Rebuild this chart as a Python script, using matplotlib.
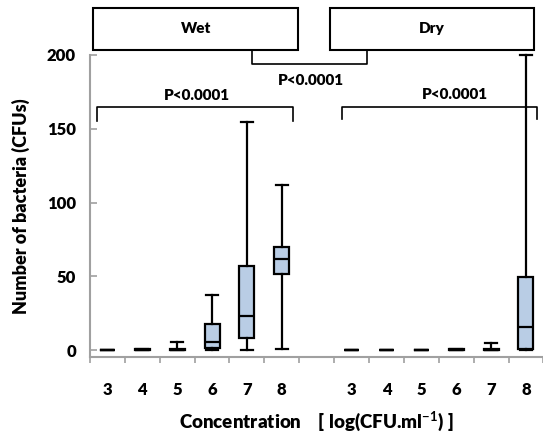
import matplotlib
matplotlib.use("Agg")
import matplotlib.pyplot as plt
from matplotlib.patches import Rectangle

plt.rcParams['font.family'] = ['Lato', 'DejaVu Sans']
plt.rcParams['font.weight'] = 'bold'
plt.rcParams['mathtext.fontset'] = 'custom'
plt.rcParams['mathtext.rm'] = 'Lato:bold'
plt.rcParams['mathtext.bf'] = 'Lato:bold'

# Data, wet group then dry group
concentrations = ['3', '4', '5', '6', '7', '8']
wet_whislo = [0, 0, 0, 0, 0, 0.7]
wet_q1 = [0, 0, 0, 1.8, 8.1, 51.8]
wet_med = [0, 0.5, 0.5, 5.8, 23.2, 61.8]
wet_q3 = [0, 1, 1, 17.8, 57.2, 70]
wet_whishi = [0, 1, 5.4, 37.4, 154.7, 112]

dry_whislo = [0, 0, 0, 0, 0, 0]
dry_q1 = [0, 0, 0, 0, 0, 0.9]
dry_med = [0, 0, 0, 0.5, 0.3, 16]
dry_q3 = [0, 0, 0, 1, 0.6, 49.8]
dry_whishi = [0, 0, 0, 1, 5.2, 200]

wet_pos = [1, 2, 3, 4, 5, 6]
dry_pos = [8, 9, 10, 11, 12, 13]

box_fill = '#b9cde5'
axis_grey = '#a0a0a0'


def make_stats(lo, q1, med, q3, hi):
    stats = []
    for i in range(len(med)):
        stats.append(dict(whislo=lo[i], q1=q1[i], med=med[i], q3=q3[i], whishi=hi[i], fliers=[]))
    return stats


fig = plt.figure(figsize=(5.43, 4.36), dpi=100)
ax = fig.add_axes([0.1657, 0.1819, 0.835, 0.6926])

stats = make_stats(wet_whislo, wet_q1, wet_med, wet_q3, wet_whishi) + \
    make_stats(dry_whislo, dry_q1, dry_med, dry_q3, dry_whishi)
ax.bxp(stats, positions=wet_pos + dry_pos, widths=0.43, capwidths=0.34,
       patch_artist=True, showfliers=False,
       boxprops=dict(facecolor=box_fill, edgecolor='black', linewidth=1.6),
       medianprops=dict(color='black', linewidth=1.6),
       whiskerprops=dict(color='black', linewidth=1.6),
       capprops=dict(color='black', linewidth=1.6),
       manage_ticks=False)
for art in ax.lines + ax.patches:
    art.set_clip_on(False)

ax.set_xlim(0.5, 13.5)
ax.set_ylim(-4.3, 200)

# axes styling
for side in ['top', 'right']:
    ax.spines[side].set_visible(False)
for side in ['left', 'bottom']:
    ax.spines[side].set_color(axis_grey)
    ax.spines[side].set_linewidth(1.5)

ax.set_yticks([0, 50, 100, 150, 200])
ax.tick_params(axis='y', direction='in', length=5, width=1.2, color=axis_grey,
               pad=10, labelsize=12)
ax.set_xticks(wet_pos + dry_pos)
ax.set_xticklabels(concentrations + concentrations)
ax.set_xticks([p + 0.5 for p in range(0, 14)], minor=True)
ax.tick_params(axis='x', which='major', length=0, pad=18, labelsize=12)
ax.tick_params(axis='x', which='minor', direction='out', length=4, width=1.2,
               color=axis_grey)
for lab in ax.get_xticklabels() + ax.get_yticklabels():
    lab.set_fontweight('heavy')

ax.set_ylabel('Number of bacteria (CFUs)', fontsize=13, fontweight='heavy', labelpad=12)
ax.set_xlabel(r'Concentration    [ log(CFU.ml$^{-1}$) ]', fontsize=13.5,
              fontweight='heavy', labelpad=9)

# group boxes on top
for x0, x1, label in [(0.595, 6.477, 'Wet'), (7.387, 13.22, 'Dry')]:
    ax.add_patch(Rectangle((x0, 203.0), x1 - x0, 28.8, facecolor='white',
                           edgecolor='black', linewidth=1.5, clip_on=False))
    ax.text((x0 + x1) / 2, 217.4, label, ha='center', va='center',
            fontsize=11, fontweight='heavy')

# brackets and p-values
line_kw = dict(color='black', linewidth=1.2, clip_on=False)
ax.plot([5.157, 5.157, 8.44, 8.44], [203, 193.7, 193.7, 203], **line_kw)
ax.text(6.84, 182.5, 'P<0.0001', ha='center', va='center', fontsize=11, fontweight='heavy')

ax.plot([0.71, 0.71, 6.32, 6.32], [155.3, 164.8, 164.8, 155.3], **line_kw)
ax.text(3.58, 172.7, 'P<0.0001', ha='center', va='center', fontsize=11, fontweight='heavy')

ax.plot([7.72, 7.72, 13.32, 13.32], [156.5, 164.8, 164.8, 156.5], **line_kw)
ax.text(10.97, 173.4, 'P<0.0001', ha='center', va='center', fontsize=11, fontweight='heavy')

fig.savefig('out.png', dpi=100)
